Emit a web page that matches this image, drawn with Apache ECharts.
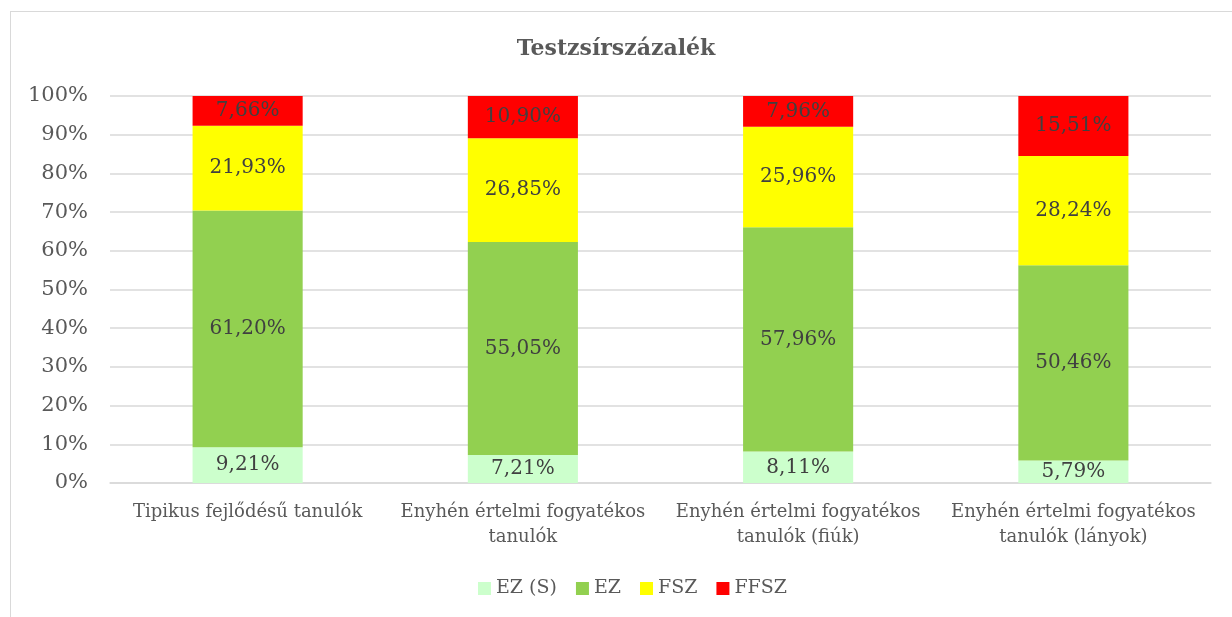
<!DOCTYPE html>
<html>
<head>
<meta charset="utf-8">
<script src="https://cdn.jsdelivr.net/npm/echarts@6/dist/echarts.min.js"></script>
<style>
  html, body { margin: 0; padding: 0; background: #fff; }
  #frame { position: absolute; left: 10px; top: 11px; width: 1240px; height: 620px; border: 1px solid #d9d9d9; box-sizing: border-box; }
  #chart { position: absolute; left: 0; top: 0; width: 1232px; height: 617px; }
</style>
</head>
<body>
<div id="frame"></div>
<div id="chart"></div>
<script>
// kategóriák
const categories = [
  'Tipikus fejlődésű tanulók',
  'Enyhén értelmi fogyatékos\ntanulók',
  'Enyhén értelmi fogyatékos\ntanulók (fiúk)',
  'Enyhén értelmi fogyatékos\ntanulók (lányok)'
];
// sorozatok (%)
const ezS = [9.21, 7.21, 8.11, 5.79];
const ez = [61.20, 55.05, 57.96, 50.46];
const fsz = [21.93, 26.85, 25.96, 28.24];
const ffsz = [7.66, 10.90, 7.96, 15.51];

const seriesNames = ['EZ (S)', 'EZ', 'FSZ', 'FFSZ'];
const seriesData = [ezS, ez, fsz, ffsz];
const colors = ['#ccffcc', '#92d050', '#ffff00', '#ff0000'];

const font = '"DejaVu Serif", serif';

const chart = echarts.init(document.getElementById('chart'), null, { renderer: 'canvas' });

chart.setOption({
  animation: false,
  title: {
    text: 'Testzsírszázalék',
    left: 'center',
    top: 33,
    textStyle: { fontFamily: font, fontSize: 22, fontWeight: 'bold', color: '#595959' }
  },
  legend: {
    bottom: 14,
    left: 473,
    itemWidth: 13,
    itemHeight: 13,
    itemGap: 19,
    icon: 'rect',
    textStyle: { fontFamily: font, fontSize: 19, color: '#595959' },
    data: seriesNames
  },
  grid: { left: 110, right: 21, top: 96, bottom: 134 },
  xAxis: {
    type: 'category',
    data: categories,
    axisLine: { show: true, lineStyle: { color: '#d9d9d9', width: 1.5 } },
    axisTick: { show: false },
    axisLabel: { fontFamily: font, fontSize: 18, color: '#595959', margin: 17, lineHeight: 25, interval: 0 }
  },
  yAxis: {
    type: 'value',
    min: 0,
    max: 100,
    interval: 10,
    axisLine: { show: false },
    axisTick: { show: false },
    splitLine: { lineStyle: { color: '#d9d9d9', width: 1.5 } },
    axisLabel: { fontFamily: font, fontSize: 21, color: '#595959', margin: 22, formatter: '{value}%' }
  },
  series: seriesNames.map((name, i) => ({
    name: name,
    type: 'bar',
    stack: 'total',
    barWidth: '40%',
    itemStyle: { color: colors[i] },
    label: {
      show: true,
      position: 'inside',
      fontFamily: font,
      fontSize: 20,
      color: '#404040',
      formatter: p => p.value.toFixed(2).replace('.', ',') + '%'
    },
    data: seriesData[i]
  }))
});
</script>
</body>
</html>
